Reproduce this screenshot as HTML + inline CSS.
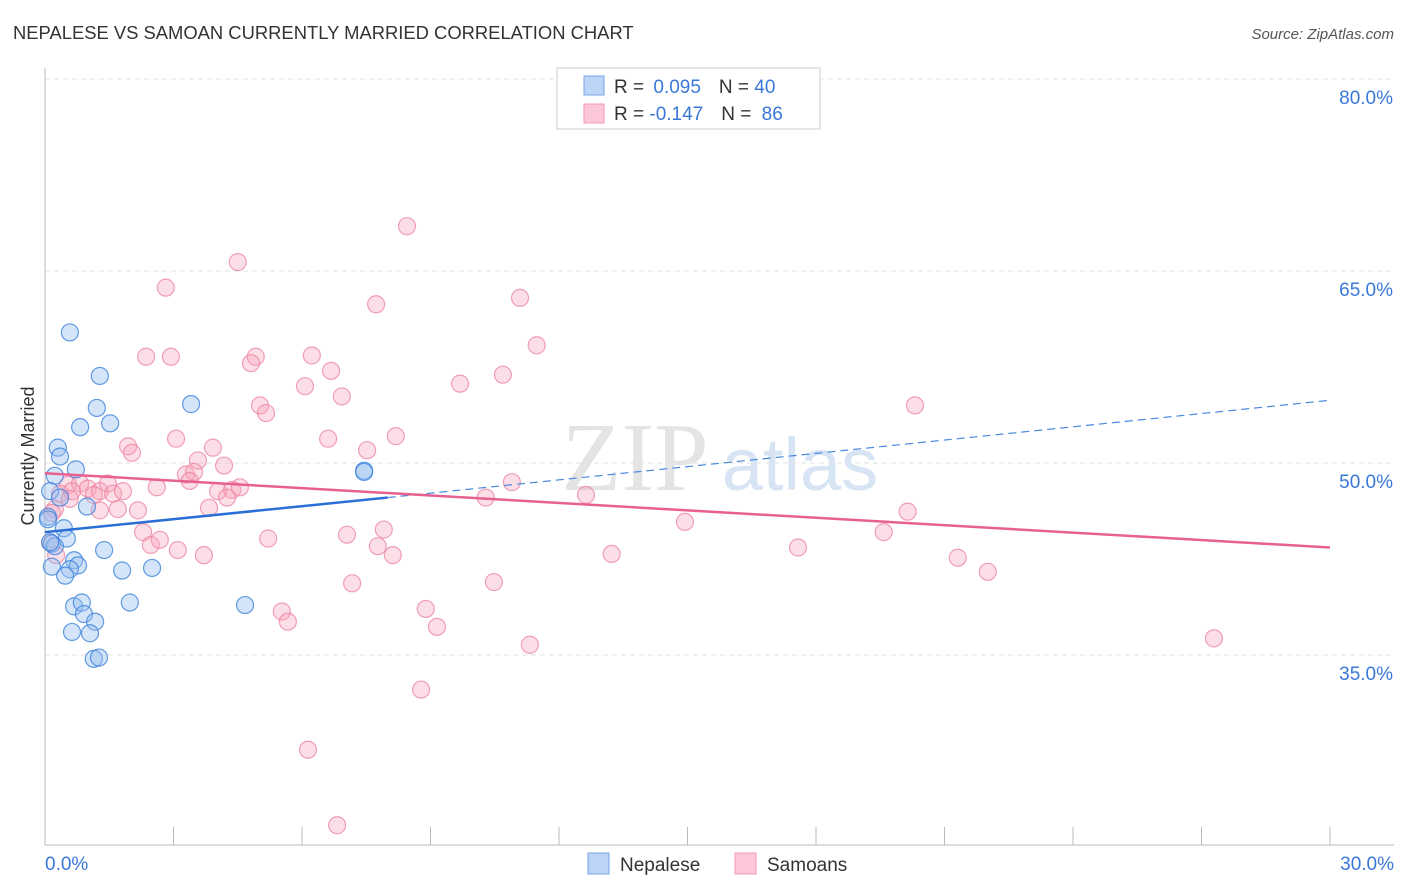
<!DOCTYPE html>
<html><head><meta charset="utf-8">
<style>
body{margin:0;background:#fff;font-family:"Liberation Sans",sans-serif;}
#wrap{position:relative;width:1406px;height:892px;overflow:hidden;}
</style></head>
<body>
<div id="wrap">
<svg id="svg" width="1406" height="892" xmlns="http://www.w3.org/2000/svg">
<text x="13" y="39" font-size="18.4" fill="#333">NEPALESE VS SAMOAN CURRENTLY MARRIED CORRELATION CHART</text>
<text x="1394" y="39" font-size="15" fill="#555" font-style="italic" text-anchor="end">Source: ZipAtlas.com</text>
<text x="34" y="456" font-size="18" fill="#333" text-anchor="middle" transform="rotate(-90 34 456)">Currently Married</text>
<g>
<text x="635" y="490" font-size="98" fill="#e4e4e4" font-family="Liberation Serif,serif" text-anchor="middle">ZIP</text>
<text x="800" y="490" font-size="74" fill="#d6e4f4" text-anchor="middle">atlas</text>
</g>
<g id="grid"></g>
<g id="axes"></g>
<g id="pts"></g>
<g id="lines"></g>
<g>
<rect x="557" y="68" width="263" height="61" fill="#fff" stroke="#ccc"/>
<rect x="584" y="76" width="20" height="19" fill="#bcd4f5" stroke="#7aa6e6"/>
<rect x="584" y="104" width="20" height="19" fill="#fcc8d8" stroke="#f09ab4"/>
<text x="614" y="93" font-size="19" fill="#333">R = <tspan fill="#3a78d8" dx="4">0.095</tspan><tspan dx="18">N = </tspan><tspan fill="#3a78d8">40</tspan></text>
<text x="614" y="120" font-size="19" fill="#333">R = <tspan fill="#3a78d8">-0.147</tspan><tspan dx="18">N = </tspan><tspan fill="#3a78d8" dx="5">86</tspan></text>
</g>
<g>
<rect x="588" y="853" width="21" height="21" fill="#bcd4f5" stroke="#7aa6e6"/>
<text x="620" y="871" font-size="19" fill="#333">Nepalese</text>
<rect x="735" y="853" width="21" height="21" fill="#fcc8d8" stroke="#f09ab4"/>
<text x="767" y="871" font-size="19" fill="#333">Samoans</text>
</g>
</svg>
</div>
<script>
const NS="http://www.w3.org/2000/svg";
const yTicks=[35,50,65,80];
const yTickLabels=["35.0%","50.0%","65.0%","80.0%"];
const xTicks=[0,3,6,9,12,15,18,21,24,27,30];
const xEndLabels=["0.0%","30.0%"];
const nepX=[0.58,1.28,1.21,1.52,0.82,0.30,0.35,0.72,0.23,0.12,0.35,0.98,0.07,0.44,0.51,0.16,0.23,1.38,0.68,0.77,0.16,0.58,0.47,1.80,2.50,1.98,0.68,0.86,0.91,1.17,0.63,1.05,1.14,1.26,3.41,7.45,7.45,4.67,0.12,0.07];
const nepY=[60.2,56.8,54.3,53.1,52.8,51.2,50.5,49.5,49.0,47.8,47.3,46.6,45.8,44.9,44.1,43.7,43.5,43.2,42.4,42.0,41.9,41.7,41.2,41.6,41.8,39.1,38.8,39.1,38.2,37.6,36.8,36.7,34.7,34.8,54.6,49.4,49.3,38.9,43.8,45.6];
const samX=[8.45,4.50,2.82,11.09,7.73,11.48,2.36,2.94,4.92,4.81,6.23,6.68,6.07,9.69,10.69,6.93,20.31,5.02,5.16,3.06,1.94,3.92,2.03,6.61,8.19,7.52,3.57,4.18,3.29,3.48,3.38,2.61,0.54,0.82,1.00,1.28,1.47,1.59,1.82,0.35,0.63,1.14,1.70,1.28,2.17,3.83,4.04,4.37,4.55,4.25,10.29,10.90,12.63,14.94,20.14,19.58,17.58,21.31,22.01,13.23,2.29,2.47,2.68,3.10,3.71,5.21,7.05,7.91,7.77,8.12,7.17,10.48,8.89,9.15,11.32,5.53,5.67,8.78,6.14,6.82,27.29,0.26,0.23,0.12,0.16,0.58];
const samY=[68.5,65.7,63.7,62.9,62.4,59.2,58.3,58.3,58.3,57.8,58.4,57.2,56.0,56.2,56.9,55.2,54.5,54.5,53.9,51.9,51.3,51.2,50.8,51.9,52.1,51.0,50.2,49.8,49.1,49.3,48.6,48.1,48.3,48.4,48.0,47.8,48.4,47.6,47.8,47.6,47.8,47.5,46.4,46.3,46.3,46.5,47.8,47.9,48.1,47.3,47.3,48.5,47.5,45.4,46.2,44.6,43.4,42.6,41.5,42.9,44.6,43.6,44.0,43.2,42.8,44.1,44.4,44.8,43.5,42.8,40.6,40.7,38.6,37.2,35.8,38.4,37.6,32.3,27.6,21.7,36.3,42.8,46.4,43.8,46.1,47.2];
const blueLine=[[0,44.6],[8.0,47.3],[30,54.9]];
const pinkLine=[[0,49.2],[30,43.4]];
const X=v=>45+v/30*1285, Y=v=>463-(v-50)*12.8;
function mk(tag,attrs,parent){const e=document.createElementNS(NS,tag);for(const k in attrs)e.setAttribute(k,attrs[k]);document.getElementById(parent).appendChild(e);return e;}
yTicks.forEach((t,i)=>{
  const g=mk("line",{x1:45,x2:1394,y1:Y(t),y2:Y(t),stroke:"#e2e2e2","stroke-dasharray":"5,4"},"grid");
  
  
  const l=mk("text",{x:1393,y:Y(t)+25,"font-size":19,fill:"#3a78d8","text-anchor":"end"},"axes");l.textContent=yTickLabels[i];
  
  
});
let a=mk("line",{x1:45,x2:45,y1:68,y2:845,stroke:"#bbb"},"axes");


a=mk("line",{x1:45,x2:1394,y1:845,y2:845,stroke:"#bbb"},"axes");


xTicks.forEach(t=>{const k=mk("line",{x1:X(t),x2:X(t),y1:827,y2:845,stroke:"#bbb"},"axes");
  
  });
let t1=mk("text",{x:45,y:870,"font-size":19,fill:"#3a78d8"},"axes");t1.textContent=xEndLabels[0];


let t2=mk("text",{x:1394,y:870,"font-size":19,fill:"#3a78d8","text-anchor":"end"},"axes");t2.textContent=xEndLabels[1];


samX.forEach((x,i)=>{const c=mk("circle",{cx:X(x),cy:Y(samY[i]),r:8.5,fill:"rgba(247,160,186,0.35)",stroke:"rgba(236,130,162,0.75)","stroke-width":1.2},"pts");
  
  });
nepX.forEach((x,i)=>{const c=mk("circle",{cx:X(x),cy:Y(nepY[i]),r:8.5,fill:"rgba(150,190,240,0.4)",stroke:"rgba(60,130,220,0.8)","stroke-width":1.2},"pts");
  
  });
let bl=mk("line",{x1:X(blueLine[0][0]),y1:Y(blueLine[0][1]),x2:X(blueLine[1][0]),y2:Y(blueLine[1][1]),stroke:"#2a6fd6","stroke-width":2.5},"lines");


let bd=mk("line",{x1:X(blueLine[1][0]),y1:Y(blueLine[1][1]),x2:X(blueLine[2][0]),y2:Y(blueLine[2][1]),stroke:"#4a88e0","stroke-width":1.2,"stroke-dasharray":"8,5"},"lines");


let pl=mk("line",{x1:X(pinkLine[0][0]),y1:Y(pinkLine[0][1]),x2:X(pinkLine[1][0]),y2:Y(pinkLine[1][1]),stroke:"#e8608e","stroke-width":2.5},"lines");


</script>
</body></html>
